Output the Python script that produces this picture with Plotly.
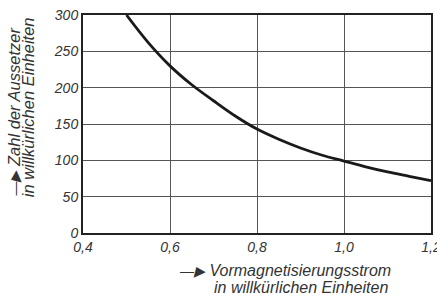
import plotly.graph_objects as go

strom = [0.5, 0.55, 0.6, 0.65, 0.7, 0.75, 0.8, 0.85, 0.9, 0.95, 1.0, 1.05, 1.1, 1.15, 1.2]
aussetzer = [300, 262, 230, 204, 182, 161, 143, 129, 117, 107, 99, 91, 84, 78, 72]
x_ticks = [0.4, 0.6, 0.8, 1.0, 1.2]
y_ticks = [0, 50, 100, 150, 200, 250, 300]

FONT = "Liberation Sans Narrow, Arial Narrow, sans-serif"
fnt = dict(family=FONT, size=14, color="#333333", style="italic")
tfnt_x = dict(family=FONT, size=16, color="#333333", style="italic")
tfnt_y = dict(family=FONT, size=16.5, color="#333333", style="italic")
ARROW = "<span style='font-size:14px'>\u2014\u25b6</span>"

fig = go.Figure()
fig.add_trace(go.Scatter(x=strom, y=aussetzer, mode="lines",
                         line=dict(color="#1a1a1a", width=2.8, shape="spline"),
                         showlegend=False, hoverinfo="skip"))

axis_common = dict(showline=True, linecolor="#222222", linewidth=2, mirror=True,
                   showgrid=True, gridcolor="#555555", gridwidth=1, automargin=False,
                   zeroline=False, ticks="", tickfont=fnt, ticklabeloverflow="allow")
fig.update_xaxes(range=[0.4, 1.2], tickvals=x_ticks, tickformat=".1f", **axis_common)
fig.update_yaxes(range=[0, 300], tickvals=y_ticks, **axis_common)

# x-axis title (two lines)
fig.add_annotation(xref="paper", yref="paper", x=0.891, y=-0.174, xanchor="right", yanchor="middle",
                   showarrow=False, text=ARROW + " Vormagnetisierungsstrom", font=tfnt_x)
fig.add_annotation(xref="paper", yref="paper", x=0.882, y=-0.252, xanchor="right", yanchor="middle",
                   showarrow=False, text="in willkürlichen Einheiten", font=tfnt_x)
# y-axis title (two lines, rotated)
fig.add_annotation(xref="paper", yref="paper", x=-0.197, y=0.16, xanchor="center", yanchor="bottom",
                   textangle=-90, showarrow=False, text=ARROW + " Zahl der Aussetzer", font=tfnt_y)
fig.add_annotation(xref="paper", yref="paper", x=-0.158, y=0.155, xanchor="center", yanchor="bottom",
                   textangle=-90, showarrow=False, text="in willkürlichen Einheiten", font=tfnt_y)

fig.update_layout(width=437, height=297, margin=dict(l=83, r=6, t=15, b=64),
                  paper_bgcolor="white", plot_bgcolor="white", separators=",.")
fig.write_html("out.html", config={"displayModeBar": False},
               post_script="document.body.style.margin='0px';document.body.style.overflow='hidden';")
